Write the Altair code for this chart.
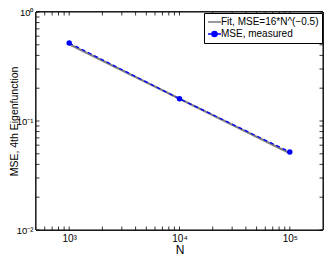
import altair as alt
import pandas as pd

# ---- data ----
n_values = [1000, 10000, 100000]
mse_measured = [0.52, 0.16, 0.052]
mse_fit = [0.506, 0.16, 0.0506]
series_names = ["Fit, MSE=16*N^(\u22120.5)", "MSE, measured"]
series_colors = ["#808080", "#0000ff"]

x_major = [1000, 10000, 100000]
x_major_labels = ["10\u00b3", "10\u2074", "10\u2075"]
y_major = [0.01, 0.1, 1]
y_major_labels = ["10\u207b\u00b2", "10\u207b\u00b9", "10\u2070"]
x_minor = [600, 700, 800, 900,
           2000, 3000, 4000, 5000, 6000, 7000, 8000, 9000,
           20000, 30000, 40000, 50000, 60000, 70000, 80000, 90000]
y_minor = [0.02, 0.03, 0.04, 0.05, 0.06, 0.07, 0.08, 0.09,
           0.2, 0.3, 0.4, 0.5, 0.6, 0.7, 0.8, 0.9]

W, H = 287, 218
FONT = "Liberation Sans"

fit_df = pd.DataFrame({"N": n_values, "MSE": mse_fit})
meas_df = pd.DataFrame({"N": n_values, "MSE": mse_measured})
xt_df = pd.DataFrame({"N": x_major + x_minor})
yt_df = pd.DataFrame({"MSE": y_major + y_minor})
leg_df = pd.DataFrame({"N": n_values[:2], "MSE": mse_measured[:2], "series": series_names})

xscale = alt.Scale(type="log", domain=[500, 200000], nice=False)
yscale = alt.Scale(type="log", domain=[0.01, 1], nice=False)

def lab_expr(vals, labs):
    parts = [f"datum.value > {v*0.99} && datum.value < {v*1.01} ? '{l}'" for v, l in zip(vals, labs)]
    return " : ".join(parts) + " : ''"

xaxis = alt.Axis(values=x_major, labelExpr=lab_expr(x_major, x_major_labels), ticks=False,
                 domain=False, grid=False, title="N", labelFontSize=10, titleFontSize=12,
                 labelPadding=3, labelFont=FONT, titleFont=FONT,
                 labelColor="black", titleColor="black", titleFontWeight="normal",
                 titleY=14, titleBaseline="top")
yaxis = alt.Axis(values=y_major, labelExpr=lab_expr(y_major, y_major_labels), ticks=False,
                 domain=False, grid=False, title="MSE, 4th Eigenfunction", labelFontSize=9.5,
                 titleFontSize=10.5, labelPadding=3, labelFont=FONT, titleFont=FONT,
                 labelColor="black", titleColor="black", titleFontWeight="normal",
                 titleX=-22, titleY=H / 2, titleAngle=270, titleAlign="center",
                 titleBaseline="middle")

X = alt.X("N:Q", scale=xscale, axis=xaxis)
Y = alt.Y("MSE:Q", scale=yscale, axis=yaxis)

frame = alt.Chart(fit_df).mark_rect(fill="white", stroke="black", strokeWidth=1).encode(
    x=alt.value(0), x2=alt.value(W), y=alt.value(0), y2=alt.value(H))

fit = alt.Chart(fit_df).mark_line(color=series_colors[0], strokeWidth=2.2).encode(x=X, y=Y)
meas_line = alt.Chart(meas_df).mark_line(color=series_colors[1], strokeWidth=1.3,
                                         strokeDash=[4, 3]).encode(x=X, y=Y)
meas_pts = alt.Chart(meas_df).mark_circle(color=series_colors[1], size=30, opacity=1).encode(x=X, y=Y)

LSZ = 100
path_fit = "M-1,0L1.6,0"
path_meas = "M-1,0L1.6,0M-0.2,0A0.5,0.5,0,1,1,0.8,0A0.5,0.5,0,1,1,-0.2,0Z"
legend = alt.Legend(title=None, orient="top-right", offset=1, symbolOpacity=1,
                    symbolSize=LSZ, symbolStrokeWidth=1.6, labelFontSize=10, labelFont=FONT,
                    labelColor="black", strokeColor="black", fillColor="white", padding=3,
                    rowPadding=1, labelOffset=2, cornerRadius=0)
leg = alt.Chart(leg_df).mark_point(filled=True, opacity=0, size=LSZ).encode(
    x=X, y=Y,
    shape=alt.Shape("series:N", scale=alt.Scale(range=[path_fit, path_meas], domain=series_names), legend=legend),
    color=alt.Color("series:N", scale=alt.Scale(range=series_colors, domain=series_names), legend=legend),
    stroke=alt.Stroke("series:N", scale=alt.Scale(range=series_colors, domain=series_names), legend=legend),
)

TL = 3.5
tick_style = dict(color="black", strokeWidth=0.8)
xb = alt.Chart(xt_df).mark_rule(**tick_style).encode(x=X, y=alt.value(H), y2=alt.value(H - TL))
xt = alt.Chart(xt_df).mark_rule(**tick_style).encode(x=X, y=alt.value(0), y2=alt.value(TL))
yl = alt.Chart(yt_df).mark_rule(**tick_style).encode(y=Y, x=alt.value(0), x2=alt.value(TL))
yr = alt.Chart(yt_df).mark_rule(**tick_style).encode(y=Y, x=alt.value(W - TL), x2=alt.value(W))

chart = alt.layer(frame, fit, meas_line, meas_pts, leg, xb, xt, yl, yr).properties(
    width=W, height=H,
    autosize=alt.AutoSizeParams(type="none"),
    padding={"left": 28, "top": 4, "right": 1, "bottom": 26},
).configure_view(stroke=None).configure(background="white")

chart.save("out.html", embed_options={"renderer": "svg", "actions": False})
